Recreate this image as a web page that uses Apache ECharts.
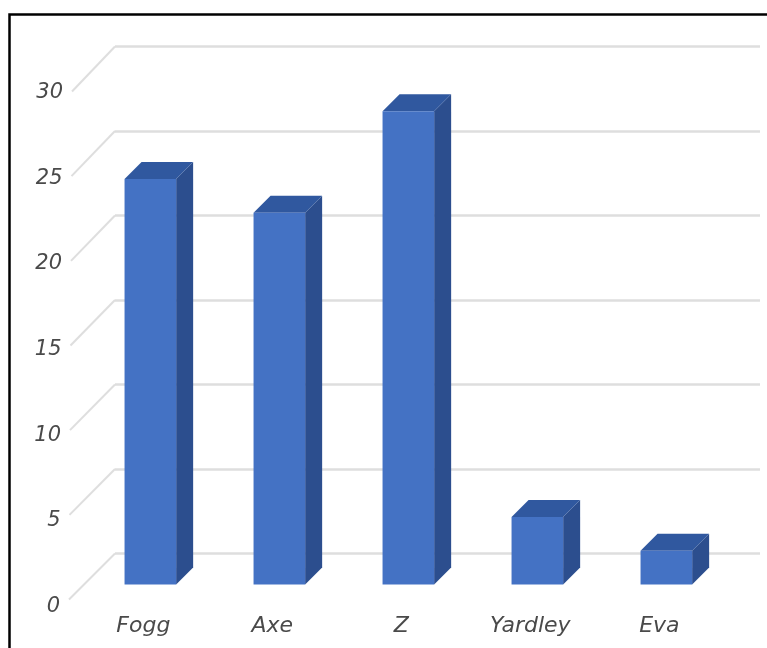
<!DOCTYPE html>
<html>
<head>
<meta charset="utf-8">
<script src="https://cdn.jsdelivr.net/npm/echarts@6/dist/echarts.min.js"></script>
<style>
html,body{margin:0;padding:0;background:#fff;}
#chart{width:767px;height:648px;}
</style>
</head>
<body>
<div id="chart"></div>
<script>
const categories = ['Fogg', 'Axe', 'Z', 'Yardley', 'Eva'];
const values = [24, 22, 28, 4, 2];
const yTicks = [0, 5, 10, 15, 20, 25, 30];

const FONT = '"DejaVu Sans"';
const chart = echarts.init(document.getElementById('chart'));

function barItem(params, api) {
  const idx = api.value(0);
  const v = api.value(1);
  const band = api.size([1, 0])[0];
  const base = api.coord([idx, 0]);
  const top = api.coord([idx, v]);
  const fx = -band * 0.226, fy = 31;      // back wall -> bar front plane
  const w = band * 0.4;
  const dx = 17, dy = -17;                // bar depth
  const L = base[0] + fx - w / 2, R = base[0] + fx + w / 2;
  const B = base[1] + fy, T = top[1] + fy;
  const lbl = categories[idx];
  return {
    type: 'group',
    children: [
      { type: 'polygon', shape: { points: [[R, T], [R + dx, T + dy], [R + dx, B + dy], [R, B]] },
        style: { fill: '#2c4e8e' } },
      { type: 'polygon', shape: { points: [[L, T], [R, T], [R + dx, T + dy], [L + dx, T + dy]] },
        style: { fill: '#30589f' } },
      { type: 'rect', shape: { x: L, y: T, width: R - L, height: B - T },
        style: { fill: '#4472c4' } },
      { type: 'text', x: base[0] + fx - 7, y: base[1] + 73,
        style: { text: lbl, font: 'oblique 22px ' + FONT, fill: '#4a4a4a', align: 'center', verticalAlign: 'middle' } }
    ]
  };
}

function tickItem(params, api) {
  const v = api.value(0);
  const x0 = params.coordSys.x;
  const p = api.coord([0, v]);
  const persp = (30 - v) / 30;
  const ex = x0 - 43 - 3 * persp, ey = p[1] + 45 + 1 * persp;
  return {
    type: 'group',
    children: [
      { type: 'line', shape: { x1: x0, y1: p[1], x2: ex, y2: ey },
        style: { stroke: '#dedede', lineWidth: 2 } },
      { type: 'text', x: ex - 9, y: ey + 1 + 6 * persp,
        style: { text: String(v), font: 'oblique 21px ' + FONT, fill: '#4a4a4a', align: 'right', verticalAlign: 'middle' } }
    ]
  };
}

chart.setOption({
  animation: false,
  backgroundColor: '#ffffff',
  grid: { left: 115, right: 7, top: 46.5, bottom: 94.5 },
  xAxis: {
    type: 'category', data: categories,
    axisLine: { show: false }, axisTick: { show: false }, axisLabel: { show: false }
  },
  yAxis: {
    type: 'value', min: 0, max: 30, interval: 5,
    axisLine: { show: false }, axisTick: { show: false }, axisLabel: { show: false },
    splitLine: { lineStyle: { color: '#dedede', width: 2.5 } }
  },
  graphic: [
    { type: 'polyline', shape: { points: [[9.5, 648], [9.5, 14.5], [767, 14.5]] },
      style: { stroke: '#000', lineWidth: 2.5, fill: null }, z: 100 }
  ],
  series: [
    {
      type: 'custom', name: 'ticks',
      data: yTicks.map(v => [v]),
      encode: { y: 0 },
      renderItem: tickItem, clip: false, z: 1
    },
    {
      type: 'custom', name: 'Sales',
      data: values.map((v, i) => [i, v]),
      encode: { x: 0, y: 1 },
      renderItem: barItem, clip: false, z: 3
    }
  ]
});
</script>
</body>
</html>
